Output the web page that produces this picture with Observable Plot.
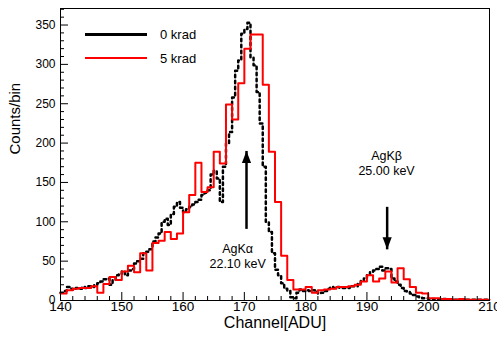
<!DOCTYPE html>
<html><head><meta charset="utf-8">
<script src="https://cdn.jsdelivr.net/npm/d3@7"></script>
<script src="https://cdn.jsdelivr.net/npm/@observablehq/plot@0.6"></script>
<style>
body{margin:0;background:#fff;font-family:"Liberation Sans",Arial,Helvetica,sans-serif}
#wrap{position:relative;width:497px;height:338px}
#legend{position:absolute;left:0;top:0}
</style></head><body><div id="wrap"></div>
<script>
// ---- data ----
const channelStart = 140;
const channelEnd = 210;
// 5 krad histogram, 1-channel bins from 140
const counts5krad = [
  9,13,15,16,16,18,10,21,30,26,
  37,44,36,60,38,73,76,87,78,85,
  112,134,175,138,144,189,174,249,230,276,
  320,338,338,274,189,125,57,26,14,14,
  17,10,13,14,15,17,17,18,20,24,
  32,24,28,37,23,41,27,17,10,9,
  3,3,2,2,1,2,1,1,1,1
];
// 0 krad histogram, 0.5-channel bins from 140
const counts0krad = [
  10,12,17,15,14,16,15,17,16,18,17,20,22,24,27,28,20,26,32,34,
  37,32,38,40,47,50,53,60,62,65,75,80,85,100,104,96,110,119,125,118,
  112,116,119,122,125,128,134,137,140,160,165,155,125,170,200,214,258,292,305,339,
  345,353,309,299,265,225,170,100,87,60,39,32,22,15,12,4,3,10,14,12,
  13,12,13,11,9,10,12,15,17,16,17,16,16,17,16,18,18,22,25,28,
  32,36,38,40,43,38,41,40,28,24,20,16,12,11,9,7,5,4,3,3,
  2,2,1,1,1,2,1,1,1,1,1,1,1,1,1,1,1,1,1,1
];
const binWidth5krad = 1;
const binWidth0krad = 0.5;
const seriesNames = ["0 krad", "5 krad"];
const seriesColors = ["#000000", "#ff0000"];
const xTicksMajor = [140,150,160,170,180,190,200,210];
const yTicksMajor = [0,50,100,150,200,250,300,350];
const peakNames = ["AgKα", "AgKβ"];
const peakEnergies = ["22.10 keV", "25.00 keV"];
const peakChannels = [170.35, 193.3];
const arrowTail = [91, 119];
const arrowTip = [190, 65];
const labelChannels = [168.9, 193.2];
const nameCounts = [66, 183.5];
const energyCounts = [47, 164];

// ---- build step tables ----
function steps(values, start, w) {
  const pts = values.map((v, i) => ({x: start + i * w, y: v}));
  pts.push({x: start + values.length * w, y: values[values.length - 1]});
  return pts;
}
const s5 = steps(counts5krad, channelStart, binWidth5krad);
const s0 = steps(counts0krad, channelStart, binWidth0krad);
const xMinor = d3.range(channelStart, channelEnd + 0.01, 2).filter(v => !xTicksMajor.includes(v));
const yMinor = d3.range(0, 371, 10).filter(v => !yTicksMajor.includes(v));
const idx = [0, 1];

const W = 497, H = 338, ML = 60, MR = 8, MT = 8, MB = 38;
const FW = W - ML - MR, FH = H - MT - MB;

const chart = Plot.plot({
  width: W, height: H,
  marginLeft: ML, marginRight: MR, marginTop: MT, marginBottom: MB,
  style: {fontFamily: '"Liberation Sans", Arial, Helvetica, sans-serif', color: "#000", background: "#fff"},
  x: {domain: [channelStart, channelEnd]},
  y: {domain: [0, 371]},
  marks: [
    Plot.line(s0, {x: "x", y: "y", curve: "step-after", stroke: seriesColors[0], strokeWidth: 2.5, strokeDasharray: "2.5 3.5"}),
    Plot.line(s5, {x: "x", y: "y", curve: "step-after", stroke: seriesColors[1], strokeWidth: 2}),
    Plot.ruleX(xTicksMajor, {insetTop: FH - 8, stroke: "#000"}),
    Plot.ruleX(xMinor, {insetTop: FH - 4, stroke: "#000"}),
    Plot.ruleY(yTicksMajor, {insetRight: FW - 8, stroke: "#000"}),
    Plot.ruleY(yMinor, {insetRight: FW - 4, stroke: "#000"}),
    Plot.frame({stroke: "#000", strokeWidth: 1}),
    Plot.axisX(xTicksMajor, {tickSize: 0, tickPadding: 1, fontSize: 13.5, tickFormat: d => String(d), label: null}),
    Plot.axisY(yTicksMajor, {tickSize: 0, tickPadding: 5, fontSize: 12, tickFormat: d => String(d), label: null}),
    Plot.text(["Channel[ADU]"], {frameAnchor: "bottom", dy: 27, fontSize: 16}),
    Plot.text(["Counts/bin"], {frameAnchor: "left", dx: -45, rotate: -90, fontSize: 15}),
    Plot.link(idx, {x1: i => peakChannels[i], x2: i => peakChannels[i], y1: i => arrowTail[i], y2: i => arrowTip[i], stroke: "#000", strokeWidth: 2.5}),
    Plot.vector(idx, {x: i => peakChannels[i], y: i => arrowTip[i], shape: "spike", length: 12, r: 4.6, rotate: i => i === 0 ? 0 : 180, anchor: "end", fill: "#000", fillOpacity: 1, stroke: "none"}),
    Plot.text(idx, {x: i => labelChannels[i], y: i => nameCounts[i], text: i => peakNames[i], fontSize: 12.5}),
    Plot.text(idx, {x: i => labelChannels[i], y: i => energyCounts[i], text: i => peakEnergies[i], fontSize: 12.5})
  ]
});
const wrap = document.getElementById("wrap");
wrap.appendChild(chart);

// legend overlay (inside plot, top-left)
const lg = d3.create("svg").attr("id", "legend").attr("width", W).attr("height", 80)
  .style("position", "absolute").style("left", "0px").style("top", "0px");
const rows = [34.5, 58];
seriesNames.forEach((name, i) => {
  lg.append("line").attr("x1", 85).attr("x2", 147).attr("y1", rows[i]).attr("y2", rows[i])
    .attr("stroke", seriesColors[i]).attr("stroke-width", i === 0 ? 3 : 2.2);
  lg.append("text").attr("x", 160).attr("y", rows[i]).attr("dy", "0.35em")
    .attr("font-size", 13).attr("font-family", '"Liberation Sans", Arial, sans-serif').text(name);
});
wrap.appendChild(lg.node());
</script>
</body></html>
